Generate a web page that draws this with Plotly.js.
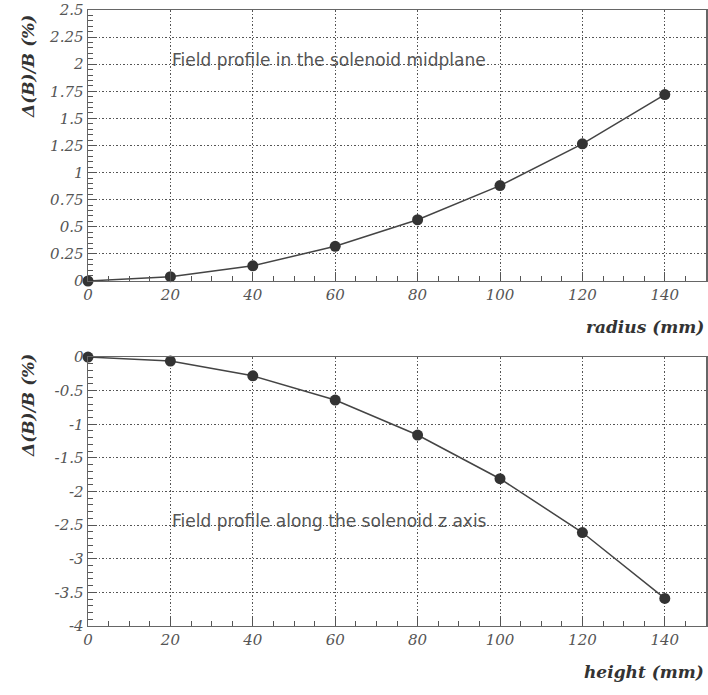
<!DOCTYPE html>
<html><head><meta charset="utf-8">
<script src="https://cdn.plot.ly/plotly-3.0.1.min.js"></script>
<style>html,body{margin:0;padding:0;background:#fff}#c{width:708px;height:695px}</style>
</head><body><div id="c"></div>
<script>
const radius = [0, 20, 40, 60, 80, 100, 120, 140];
const dBradial = [0, 0.04, 0.14, 0.32, 0.565, 0.88, 1.265, 1.72];
const height = [0, 20, 40, 60, 80, 100, 120, 140];
const dBaxial = [0, -0.06, -0.28, -0.64, -1.16, -1.81, -2.61, -3.59];
const xTicks = [0, 20, 40, 60, 80, 100, 120, 140];
const yTopTicks = [0, 0.25, 0.5, 0.75, 1, 1.25, 1.5, 1.75, 2, 2.25, 2.5];
const yTopLabels = ['0','0.25','0.5','0.75','1','1.25','1.5','1.75','2','2.25','2.5'];
const yBotTicks = [0, -0.5, -1, -1.5, -2, -2.5, -3, -3.5, -4];
const yBotLabels = ['0','-0.5','-1','-1.5','-2','-2.5','-3','-3.5','-4'];

const lineCol = '#444';
const mk = {color: '#333', size: 11};
const traces = [
  {x: radius, y: dBradial, xaxis: 'x', yaxis: 'y', mode: 'lines+markers', cliponaxis: false,
   line: {color: lineCol, width: 1.5}, marker: mk, showlegend: false},
  {x: height, y: dBaxial, xaxis: 'x2', yaxis: 'y2', mode: 'lines+markers', cliponaxis: false,
   line: {color: lineCol, width: 1.5}, marker: mk, showlegend: false}
];
const SERIF = 'DejaVu Serif';
const tickFont = {family: SERIF, size: 15, color: '#555', style: 'italic'};
const gridBase = {showgrid: true, gridcolor: '#555', griddash: '1.5px,2px', gridwidth: 1,
  showline: true, linecolor: '#666', linewidth: 1.5, mirror: true, zeroline: false,
  ticks: 'inside', ticklen: 9, tickcolor: '#555', tickfont: tickFont};
function xa(anchor){
  return Object.assign({}, gridBase, {anchor: anchor, range: [0, 150], tickmode: 'array',
    tickvals: xTicks, ticktext: xTicks.map(String),
    minor: {dtick: 5, tick0: 0, ticks: 'inside', ticklen: 5, tickcolor: '#555', showgrid: false}});
}
function ya(anchor, domain, range, tv, tt, mdt){
  return Object.assign({}, gridBase, {anchor: anchor, domain: domain, range: range,
    tickmode: 'array', tickvals: tv, ticktext: tt,
    minor: {dtick: mdt, tick0: 0, ticks: 'inside', ticklen: 5, tickcolor: '#555', showgrid: false}});
}
const titleFont = {family: SERIF, size: 17, color: '#333', style: 'italic', weight: 'bold'};
const annFont = {family: 'DejaVu Sans', size: 17, color: '#555'};
const layout = {
  width: 708, height: 695,
  margin: {l: 88, r: 2, t: 0, b: 0},
  paper_bgcolor: '#fff', plot_bgcolor: '#fff',
  xaxis: xa('y'),
  yaxis: ya('x', [0.5957, 0.9856], [0, 2.5], yTopTicks, yTopLabels, 0.05),
  xaxis2: xa('y2'),
  yaxis2: ya('x2', [0.0993, 0.4863], [-4, 0], yBotTicks, yBotLabels, 0.1),
  annotations: [
    {xref: 'x', yref: 'y', x: 20, y: 2.04, xanchor: 'left', yanchor: 'middle', showarrow: false,
     text: 'Field profile in the solenoid midplane', font: annFont},
    {xref: 'x2', yref: 'y2', x: 20, y: -2.44, xanchor: 'left', yanchor: 'middle', showarrow: false,
     text: 'Field profile along the solenoid z axis', font: annFont},
    {xref: 'paper', yref: 'paper', x: 1, y: 1 - 327/695, xanchor: 'right', yanchor: 'middle', showarrow: false,
     text: 'radius (mm)', font: titleFont},
    {xref: 'paper', yref: 'paper', x: 1, y: 1 - 672/695, xanchor: 'right', yanchor: 'middle', showarrow: false,
     text: 'height (mm)', font: titleFont},
    {xref: 'paper', yref: 'paper', x: -(88-28)/618, y: 1 - 67/695, xanchor: 'center', yanchor: 'middle', showarrow: false,
     textangle: -90, text: 'Δ(B)/B (%)', font: titleFont},
    {xref: 'paper', yref: 'paper', x: -(88-28)/618, y: 1 - 406/695, xanchor: 'center', yanchor: 'middle', showarrow: false,
     textangle: -90, text: 'Δ(B)/B (%)', font: titleFont}
  ]
};
Plotly.newPlot('c', traces, layout, {displayModeBar: false, staticPlot: true});
</script></body></html>
